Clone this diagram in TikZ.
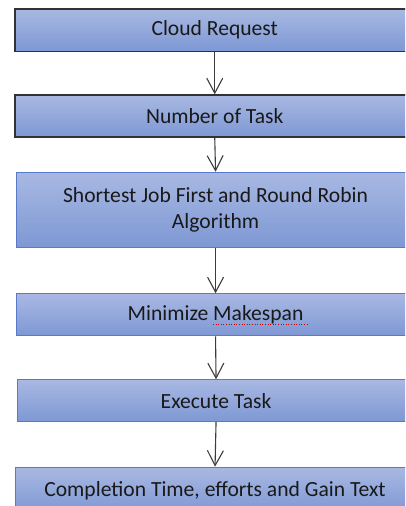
\documentclass[tikz,border=0pt]{standalone}
\usepackage{fontspec}
\setmainfont{Carlito}
\usetikzlibrary{arrows.meta}
\definecolor{boxtop}{RGB}{168,184,226}
\definecolor{boxbot}{RGB}{126,152,212}
\definecolor{darkedge}{RGB}{50,50,50}
\definecolor{blueedge}{RGB}{88,122,200}
\definecolor{arrowgray}{RGB}{60,60,60}
\definecolor{txt}{RGB}{25,25,25}
\begin{document}
\begin{tikzpicture}[x=1pt,y=-1pt,
  stepbox/.style={rectangle, anchor=north west, inner sep=0pt,
    top color=boxtop, bottom color=boxbot, line width=1.1pt,
    text=txt, align=center,
    font=\fontsize{21.6}{26}\selectfont},
  darkbox/.style={stepbox, draw=darkedge, line width=1.5pt},
  bluebox/.style={stepbox, draw=blueedge},
  flow/.style={draw=arrowgray, line width=1.1pt,
    -{Straight Barb[length=15pt,width=16pt,line width=1.1pt]}}]
\useasboundingbox (0,0) rectangle (405,506);
\clip (0,0) rectangle (405,506);

\node[darkbox, minimum width=400pt, minimum height=42.5pt] (b1) at (14,8) {Cloud Request};
\node[darkbox, minimum width=400pt, minimum height=42pt] (b2) at (14,94.3) {Number of Task};
\node[bluebox, minimum width=398pt, minimum height=75pt] (b3) at (16,171.7)
  {Shortest Job First and Round Robin\\Algorithm};
\node[bluebox, minimum width=398pt, minimum height=42pt] (b4) at (16,293.3) {Minimize Makespan};
\node[bluebox, minimum width=397pt, minimum height=41.5pt] (b5) at (17,379.3) {Execute Task};
\node[bluebox, minimum width=399pt, minimum height=46pt] (b6) at (15,466.7)
  {Completion Time, efforts and Gain Text};

% spell-check mark under "Makespan"
\draw[red!80!black, line width=0.6pt, dotted] (213,324.5) -- (307,324.5);

\draw[flow] (b1.south) -- (b2.north);
\draw[flow] (b2.south) -- (b3.north);
\draw[flow] (b3.south) -- (b4.north);
\draw[flow] (b4.south) -- (b5.north);
\draw[flow] (b5.south) -- (b6.north);
\end{tikzpicture}
\end{document}
